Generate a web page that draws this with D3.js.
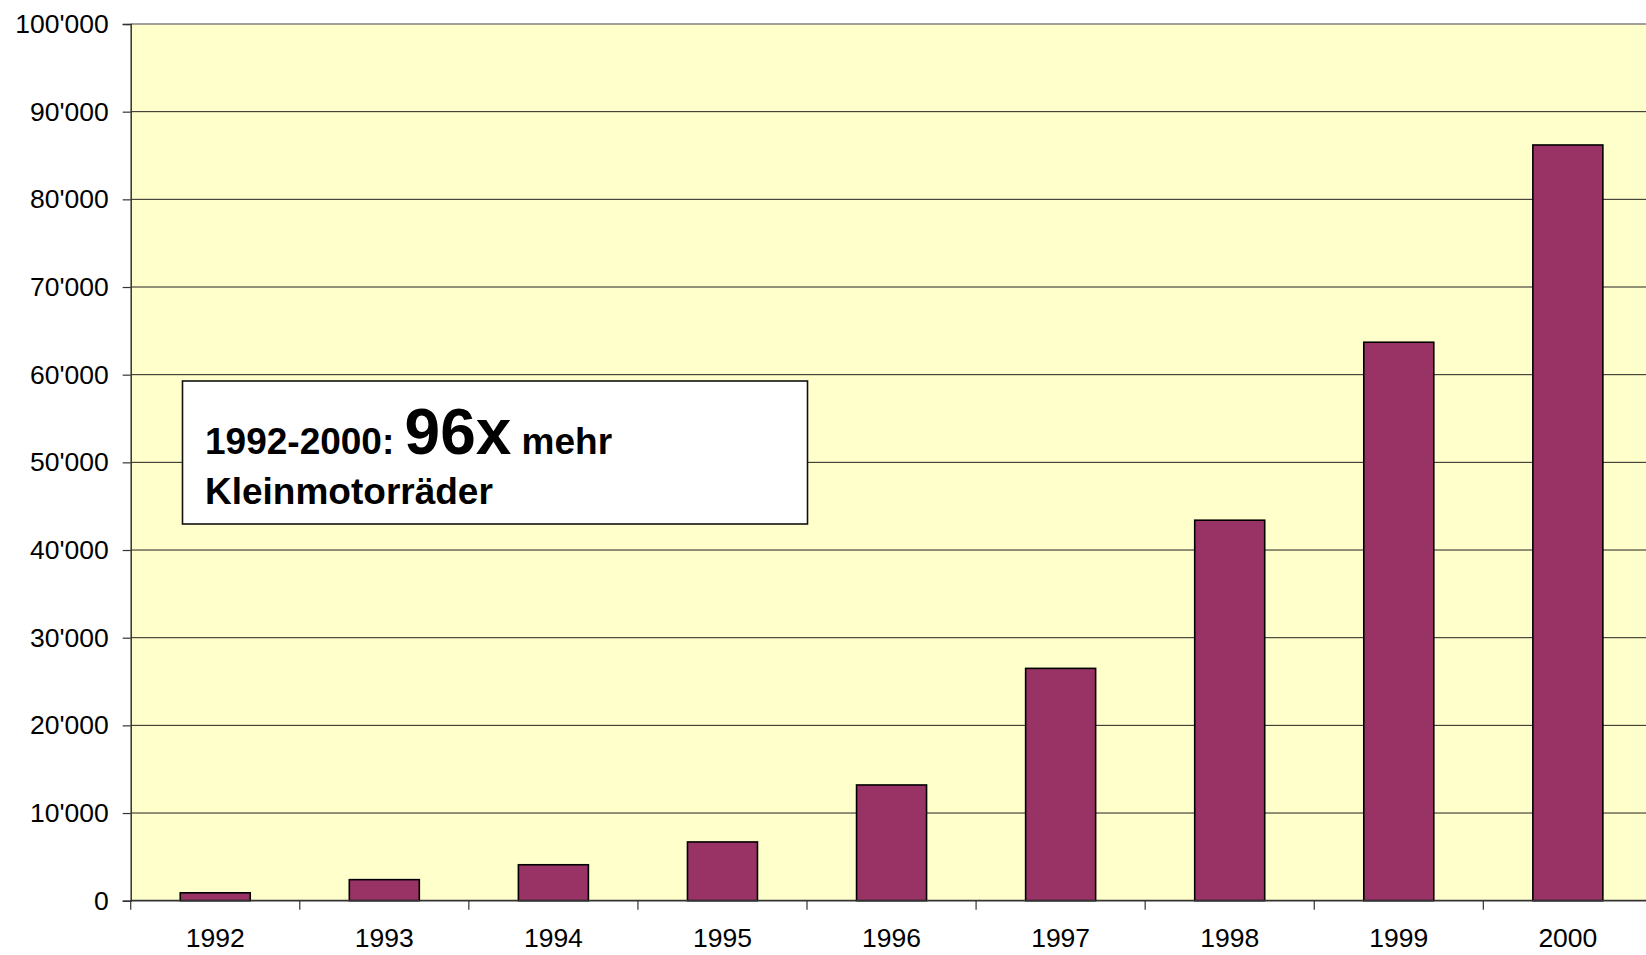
<!DOCTYPE html>
<html>
<head>
<meta charset="utf-8">
<script src="https://cdn.jsdelivr.net/npm/d3@7"></script>
<style>
  html, body { margin: 0; padding: 0; background: #ffffff; }
  svg { display: block; }
</style>
</head>
<body>
<svg id="chart" width="1646" height="955"></svg>
<script>
const years = ["1992", "1993", "1994", "1995", "1996", "1997", "1998", "1999", "2000"];
const values = [900, 2400, 4100, 6700, 13200, 26500, 43400, 63700, 86200];
const yTicks = [0, 10000, 20000, 30000, 40000, 50000, 60000, 70000, 80000, 90000, 100000];
const noteLine1 = ["1992-2000: ", "96x", " mehr"];
const noteLine2 = "Kleinmotorräder";

const svg = d3.select("#chart");
const font = "Arial, 'Liberation Sans', Helvetica, sans-serif";

const plotLeft = 130.7, plotRight = 1652.4, plotTop = 24, plotBottom = 900.7;

const x = d3.scaleBand().domain(years).range([plotLeft, plotRight]).paddingInner(0.586).paddingOuter(0.293);
const y = d3.scaleLinear().domain([0, 100000]).range([plotBottom, plotTop]);

const locale = d3.formatLocale({ decimal: ".", thousands: "'", grouping: [3], currency: ["", ""] });
const fmt = locale.format(",");

// plot background
svg.append("rect")
  .attr("x", plotLeft).attr("y", plotTop)
  .attr("width", plotRight - plotLeft).attr("height", plotBottom - plotTop)
  .attr("fill", "#ffffcc");

// gridlines
svg.append("g").selectAll("line")
  .data(yTicks.filter(d => d > 0))
  .join("line")
  .attr("x1", plotLeft).attr("x2", plotRight)
  .attr("y1", d => y(d)).attr("y2", d => y(d))
  .attr("stroke", d => d === 100000 ? "#808080" : "#222")
  .attr("stroke-width", d => d === 100000 ? 1.5 : 1);

// y axis
const yAxis = svg.append("g")
  .attr("transform", `translate(${plotLeft},0)`)
  .call(d3.axisLeft(y).tickValues(yTicks).tickFormat(fmt).tickSize(8).tickPadding(14));
yAxis.select(".domain").attr("stroke", "#333").attr("stroke-width", 1.5);
yAxis.selectAll(".tick line").attr("stroke", "#333").attr("stroke-width", 1.2);
yAxis.selectAll(".tick text")
  .attr("font-family", font).attr("font-size", 26.5).attr("fill", "#000");

// bars
svg.append("g").selectAll("rect")
  .data(values)
  .join("rect")
  .attr("x", (d, i) => x(years[i]))
  .attr("y", d => y(d))
  .attr("width", x.bandwidth())
  .attr("height", d => y(0) - y(d))
  .attr("fill", "#993366")
  .attr("stroke", "#000")
  .attr("stroke-width", 1.6);

// x axis
const xTickScale = d3.scaleLinear().domain([0, years.length]).range([plotLeft, plotRight]);
const xAxisG = svg.append("g");
xAxisG.append("line")
  .attr("x1", plotLeft).attr("x2", plotRight)
  .attr("y1", plotBottom).attr("y2", plotBottom)
  .attr("stroke", "#333").attr("stroke-width", 1.8);
xAxisG.selectAll("line.tick")
  .data(d3.range(0, years.length + 1))
  .join("line")
  .attr("class", "tick")
  .attr("x1", d => xTickScale(d)).attr("x2", d => xTickScale(d))
  .attr("y1", plotBottom).attr("y2", plotBottom + 9)
  .attr("stroke", "#333").attr("stroke-width", 1.2);
xAxisG.selectAll("text")
  .data(years)
  .join("text")
  .attr("x", d => x(d) + x.bandwidth() / 2)
  .attr("y", 946.5)
  .attr("text-anchor", "middle")
  .attr("font-family", font).attr("font-size", 26.5).attr("fill", "#000")
  .text(d => d);

// annotation box
const box = svg.append("g");
box.append("rect")
  .attr("x", 182.5).attr("y", 381).attr("width", 625).attr("height", 143)
  .attr("fill", "#ffffff").attr("stroke", "#111").attr("stroke-width", 1.6);
const t1 = box.append("text")
  .attr("x", 205).attr("y", 454)
  .attr("font-family", font).attr("font-weight", "bold").attr("fill", "#000")
  .attr("xml:space", "preserve");
t1.append("tspan").attr("font-size", 37).text(noteLine1[0]);
t1.append("tspan").attr("font-size", 64).text(noteLine1[1]);
t1.append("tspan").attr("font-size", 37).text(noteLine1[2]);
box.append("text")
  .attr("x", 205).attr("y", 504)
  .attr("font-family", font).attr("font-weight", "bold").attr("font-size", 37).attr("fill", "#000")
  .text(noteLine2);
</script>
</body>
</html>
